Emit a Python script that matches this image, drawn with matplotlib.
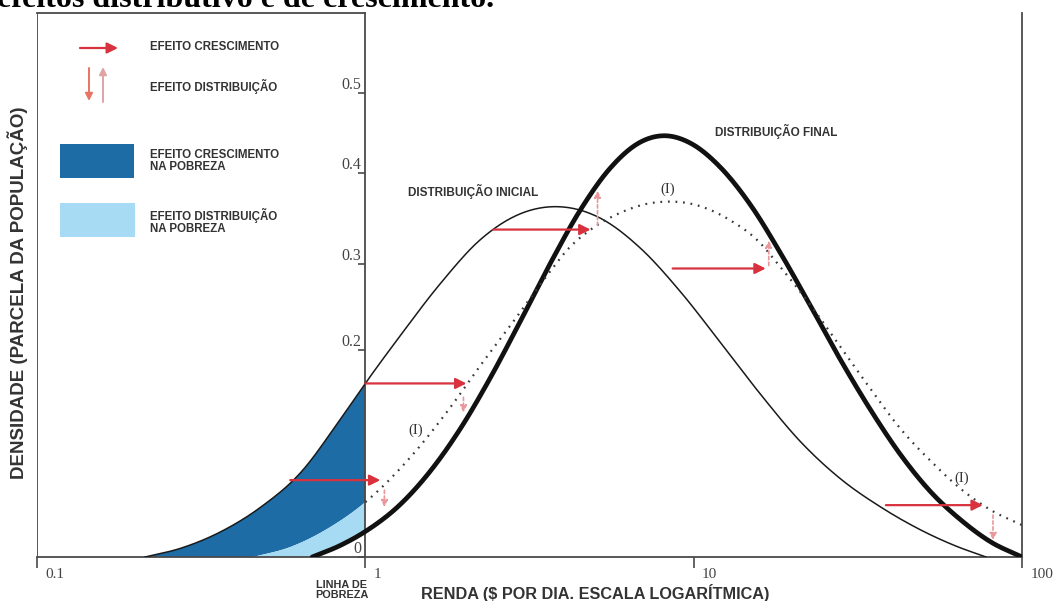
import numpy as np
import matplotlib.pyplot as plt
import matplotlib.transforms as mtransforms
from matplotlib.patches import Rectangle, FancyArrowPatch

W, H = 1055, 601

# renda ($/dia) e densidade de cada curva
renda_inicial = [0.2135, 0.273, 0.361, 0.479, 0.634, 0.839, 1.0, 1.279, 1.693, 2.242, 2.970, 3.849,
                 5.207, 6.894, 9.13, 12.09, 16.01, 21.20, 28.07, 37.15, 49.2, 62.9, 77.7]
dens_inicial = [0, 0.0083, 0.0241, 0.048, 0.0814, 0.1333, 0.1681, 0.2172, 0.2770, 0.3264, 0.3549, 0.3626,
                0.3498, 0.3167, 0.2672, 0.2086, 0.1572, 0.1113, 0.0754, 0.0483, 0.0261, 0.0106, 0]

renda_final = [0.689, 0.839, 1.0, 1.279, 1.578, 1.948, 2.405, 2.970, 3.665, 4.523, 5.585, 6.894, 8.10,
               9.79, 12.09, 14.92, 18.42, 22.74, 28.07, 34.64, 42.78, 52.8, 65.2, 80.4, 100]
dens_final = [0, 0.0112, 0.0247, 0.051, 0.0832, 0.1243, 0.1737, 0.234, 0.3007, 0.3593, 0.4063, 0.4385, 0.4463,
              0.4369, 0.4063, 0.3642, 0.3110, 0.2506, 0.1903, 0.142, 0.0985, 0.0628, 0.0357, 0.0145, 0]

# distribuicao (I): so crescimento, sem mudanca na distribuicao
renda_hipot = [0.4556, 0.591, 0.782, 1.0, 1.372, 1.816, 2.242, 2.767, 3.614, 4.13, 4.956, 5.99, 7.24, 8.21,
               9.79, 12.97, 15.67, 18.42, 22.74, 28.07, 34.64, 42.78, 52.8, 65.2, 80.4, 100]
dens_hipot = [0, 0.0097, 0.029, 0.0531, 0.0966, 0.1449, 0.1855, 0.2287, 0.2885, 0.3154, 0.3396, 0.356, 0.3659,
              0.3681, 0.3659, 0.3473, 0.3253, 0.2954, 0.2517, 0.2034, 0.1623, 0.1236, 0.0927, 0.0657, 0.0454, 0.0309]

linha_pobreza = 1.0

# setas de crescimento (horizontais) e de distribuicao (verticais)
cresc_x0 = [0.5906, 1.0, 2.455, 8.63, 38.5]
cresc_x1 = [1.111, 2.032, 4.853, 16.58, 76.0]
cresc_y = [0.0744, 0.168, 0.3374, 0.2943, 0.0502]

dist_x = [1.143, 1.99, 5.096, 16.93, 81.6]
dist_y0 = [0.0647, 0.1546, 0.3418, 0.2977, 0.0406]
dist_y1 = [0.0483, 0.140, 0.3802, 0.3253, 0.0164]

x_ticks = [0.1, 1, 10, 100]
x_ticklabels = ['0.1', '1', '10', '100']
y_ticks = [0, 0.2, 0.3, 0.4, 0.5]
y_ticklabels = ['0', '0.2', '0.3', '0.4', '0.5']

# escala vertical desenhada a mao (espacamento irregular)
y_val = [-1, 0, 0.2, 0.3, 0.4, 0.5, 0.6, 2]
y_pos = [-1035, 0, 207, 294, 385, 465, 545, 1665]


def fwd(v):
    return np.interp(v, y_val, y_pos)


def inv(h):
    return np.interp(h, y_pos, y_val)


def suave(xs, ys, n=16):
    # spline de Hermite em (log x, escala y), so para a curva sair lisa
    u = np.log10(xs)
    w = fwd(np.asarray(ys, float))
    h = np.diff(u)
    d = np.diff(w) / h
    m = np.empty_like(w)
    m[1:-1] = (d[:-1] * h[1:] + d[1:] * h[:-1]) / (h[:-1] + h[1:])
    m[0], m[-1] = d[0], d[-1]
    t = np.linspace(0, 1, n, endpoint=False)
    h00 = 2 * t**3 - 3 * t**2 + 1
    h10 = t**3 - 2 * t**2 + t
    h01 = -2 * t**3 + 3 * t**2
    h11 = t**3 - t**2
    uu, ww = [], []
    for i in range(len(h)):
        uu.append(u[i] + t * h[i])
        ww.append(h00 * w[i] + h10 * h[i] * m[i] + h01 * w[i + 1] + h11 * h[i] * m[i + 1])
    uu.append([u[-1]])
    ww.append([w[-1]])
    return 10 ** np.concatenate(uu), np.clip(inv(np.concatenate(ww)), 0, None)


SANS = 'Liberation Sans'
SERIF = 'Liberation Serif'
frame = '#4a4a4a'
txt = '#333333'
azul_escuro = '#1d6ca5'
azul_claro = '#a6dbf3'
vermelho = '#d8323e'
rosa = '#e9979b'

fig = plt.figure(figsize=(W / 100, H / 100), dpi=100)
ax = fig.add_axes([37 / W, 44 / H, 985 / W, 544 / H])
ax.set_xscale('log')
ax.set_yscale('function', functions=(fwd, inv))
ax.set_xlim(0.1, 100)
ax.set_ylim(0, 0.6)


def px(x, y):
    return x / W, 1 - y / H


ri, di = suave(renda_inicial, dens_inicial)
rh, dh = suave(renda_hipot, dens_hipot)
rf, df = suave(renda_final, dens_final)

# areas de pobreza (renda abaixo da linha)
mi = ri <= linha_pobreza + 1e-9
mh = rh <= linha_pobreza + 1e-9
mf = rf <= linha_pobreza + 1e-9
ax.fill(np.concatenate([ri[mi], rh[mh][::-1]]), np.concatenate([di[mi], dh[mh][::-1]]),
        color=azul_escuro, lw=0, zorder=1)
ax.fill(np.concatenate([rh[mh], rf[mf][::-1]]), np.concatenate([dh[mh], df[mf][::-1]]),
        color=azul_claro, lw=0, zorder=1)

# curvas
ax.plot(ri, di, color='#1a1a1a', lw=1.1, zorder=3)
ax.plot(rf, df, color='#111111', lw=3.4, zorder=3, solid_capstyle='round')
vis = rh >= linha_pobreza
ax.plot(rh[vis], dh[vis], color='#3a3a3a', lw=1.6, ls=(0, (0.8, 2.6)), zorder=3)

for x0, x1, y in zip(cresc_x0, cresc_x1, cresc_y):
    ax.annotate('', xy=(x1, y), xytext=(x0, y),
                arrowprops=dict(arrowstyle='-|>', color=vermelho, lw=1.6, mutation_scale=16,
                                shrinkA=0, shrinkB=0), zorder=4)
for x, y0, y1 in zip(dist_x, dist_y0, dist_y1):
    ax.annotate('', xy=(x, y1), xytext=(x, y0),
                arrowprops=dict(arrowstyle='-|>', color=rosa, lw=1.2, ls=(0, (2, 1.5)), mutation_scale=10,
                                shrinkA=0, shrinkB=0), zorder=4)

# eixos
for s in ['left', 'right', 'top', 'bottom']:
    ax.spines[s].set_color(frame)
    ax.spines[s].set_linewidth(1.3)
ax.spines['left'].set_position(('data', linha_pobreza))
ax.spines['top'].set_bounds(0.1, linha_pobreza)
ax.axvline(0.1, color=frame, lw=1.3, zorder=5)

ax.set_xticks(x_ticks)
ax.set_xticklabels(x_ticklabels)
ax.xaxis.set_minor_locator(plt.NullLocator())
ax.tick_params(axis='x', direction='out', length=8, width=1.2, color=frame, pad=0,
               labelsize=11, labelcolor='#444444')
offset = mtransforms.ScaledTranslation(6 / 72, 0, fig.dpi_scale_trans)
for t in ax.get_xticklabels():
    t.set_family(SERIF)
    t.set_horizontalalignment('left')
    t.set_transform(t.get_transform() + offset)

ax.set_yticks(y_ticks)
ax.set_yticklabels(y_ticklabels)
ax.yaxis.set_minor_locator(plt.NullLocator())
ax.tick_params(axis='y', direction='out', length=5, width=1.2, color=frame, pad=-2,
               labelsize=11.5, labelcolor='#444444')
for t in ax.get_yticklabels():
    t.set_family(SERIF)
    t.set_verticalalignment('bottom')

# rotulos
fig.text(*px(-3, 7), 'efeitos distributivo e de crescimento.', fontsize=23, fontweight='bold',
         family=SERIF, va='baseline', ha='left')
fig.text(*px(18, 293), 'DENSIDADE (PARCELA DA POPULAÇÃO)', rotation=90, fontsize=13.5, fontweight='bold',
         family=SANS, color=txt, ha='center', va='center')
fig.text(*px(595, 593), 'RENDA ($ POR DIA. ESCALA LOGARÍTMICA)', fontsize=11.7, fontweight='bold',
         family=SANS, color=txt, ha='center', va='center')
fig.text(*px(342, 590), 'LINHA DE\nPOBREZA', fontsize=7.8, fontweight='bold', family=SANS, color=txt,
         ha='center', va='center', linespacing=1.0)
fig.text(*px(408, 191), 'DISTRIBUIÇÃO INICIAL', fontsize=8.5, fontweight='bold', family=SANS, color=txt,
         ha='left', va='center')
fig.text(*px(715, 131), 'DISTRIBUIÇÃO FINAL', fontsize=8.5, fontweight='bold', family=SANS, color=txt,
         ha='left', va='center')
for xx, yy in [(668, 189), (416, 430), (962, 478)]:
    fig.text(*px(xx, yy), '(I)', fontsize=10.5, family=SERIF, color=txt, ha='center', va='center')

# legenda
fig.add_artist(Rectangle(px(60, 178), 74 / W, 34 / H, transform=fig.transFigure,
                         facecolor=azul_escuro, edgecolor='none'))
fig.add_artist(Rectangle(px(60, 237), 75 / W, 34 / H, transform=fig.transFigure,
                         facecolor=azul_claro, edgecolor='none'))
fig.add_artist(FancyArrowPatch(px(80, 48), px(118, 48), transform=fig.transFigure,
                               arrowstyle='-|>', color=vermelho, lw=1.6, mutation_scale=16, shrinkA=0, shrinkB=0))
fig.add_artist(FancyArrowPatch(px(89, 68), px(89, 101), transform=fig.transFigure,
                               arrowstyle='-|>', color='#e77564', lw=1.4, mutation_scale=11, shrinkA=0, shrinkB=0))
fig.add_artist(FancyArrowPatch(px(103, 102), px(103, 67), transform=fig.transFigure,
                               arrowstyle='-|>', color='#e0a3a3', lw=1.4, mutation_scale=11, shrinkA=0, shrinkB=0))
leg = [(47, 'EFEITO CRESCIMENTO'), (86, 'EFEITO DISTRIBUIÇÃO'),
       (161, 'EFEITO CRESCIMENTO\nNA POBREZA'), (221, 'EFEITO DISTRIBUIÇÃO\nNA POBREZA')]
for yy, s in leg:
    fig.text(*px(150, yy), s, fontsize=8.3, fontweight='bold', family=SANS, color=txt,
             ha='left', va='center', linespacing=1.0)

fig.savefig('out.png', dpi=100)
